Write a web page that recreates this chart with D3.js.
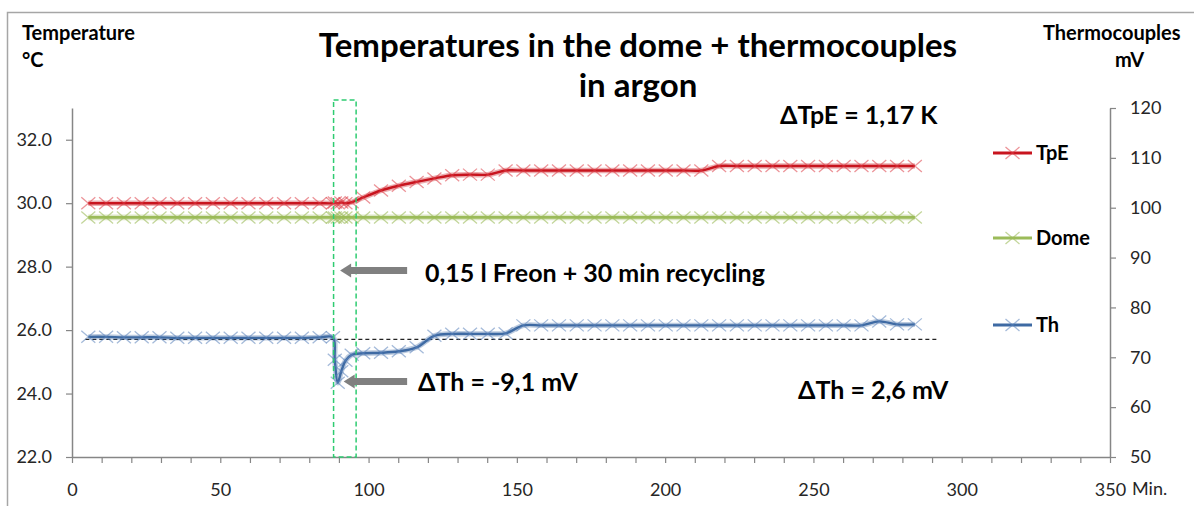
<!DOCTYPE html>
<html>
<head>
<meta charset="utf-8">
<script src="https://cdn.jsdelivr.net/npm/d3@7"></script>
<style>
  html, body { margin: 0; padding: 0; background: #fff; }
  svg { display: block; font-family: Lato, "Open Sans", sans-serif; }
</style>
</head>
<body>
<svg id="chart" width="1194" height="506"></svg>
<script>
// Sample times in minutes (dense sampling around the Freon injection)
const times = [
  5.5, 11.5, 17.5, 23.5, 29.5, 35.5, 41.5, 47.5, 53.5, 59.5, 65.5, 71.5, 77.5, 83.5,
  88.0, 88.6, 89.6, 90.8, 92.2, 94.3,
  98.2, 104.2, 110.2, 116.2, 122.2, 128.2, 134.2, 140.2, 146.2, 152.2,
  158.2, 164.2, 170.2, 176.2, 182.2, 188.2, 194.2, 200.2, 206.2, 212.2,
  218.2, 224.2, 230.2, 236.2, 242.2, 248.2, 254.2, 260.2, 266.2, 272.2,
  278.2, 284.2
];

// TpE temperature, °C (left axis)
const tpe = [
  30.0, 30.0, 30.0, 30.0, 30.0, 30.0, 30.0, 30.0, 30.0, 30.0, 30.0, 30.0, 30.0, 30.0,
  30.0, 30.02, 30.0, 30.02, 30.0, 30.03,
  30.18, 30.4, 30.55, 30.67, 30.78, 30.88, 30.9, 30.9, 31.03, 31.03,
  31.03, 31.03, 31.03, 31.03, 31.03, 31.03, 31.03, 31.03, 31.03, 31.03,
  31.17, 31.17, 31.17, 31.17, 31.17, 31.17, 31.17, 31.17, 31.17, 31.17,
  31.17, 31.17
];

// Dome temperature, °C (left axis)
const dome = [
  29.55, 29.55, 29.55, 29.55, 29.55, 29.55, 29.55, 29.55, 29.55, 29.55, 29.55, 29.55, 29.55, 29.55,
  29.55, 29.55, 29.55, 29.55, 29.55, 29.55,
  29.55, 29.55, 29.55, 29.55, 29.55, 29.55, 29.55, 29.55, 29.55, 29.55,
  29.55, 29.55, 29.55, 29.55, 29.55, 29.55, 29.55, 29.55, 29.55, 29.55,
  29.55, 29.55, 29.55, 29.55, 29.55, 29.55, 29.55, 29.55, 29.55, 29.55,
  29.55, 29.55
];

// Thermocouple signal Th, mV (right axis)
const th = [
  74.1, 74.1, 74.0, 74.0, 74.0, 73.9, 73.9, 73.9, 73.9, 73.9, 73.9, 73.9, 73.9, 74.0,
  74.0, 69.5, 64.9, 67.2, 69.3, 70.5,
  70.8, 70.9, 71.2, 72.0, 74.3, 74.7, 74.7, 74.7, 74.8, 76.4,
  76.4, 76.4, 76.4, 76.4, 76.4, 76.4, 76.4, 76.4, 76.4, 76.4,
  76.4, 76.4, 76.4, 76.4, 76.4, 76.4, 76.4, 76.4, 76.4, 77.2,
  76.6, 76.6
];

// Reference level of Th before the injection (dashed line), mV
const thReference = [
  { t: 4.5, v: 73.6 },
  { t: 291.5, v: 73.6 }
];

// Injection window, minutes
const eventWindow = [88.2, 95.8];

// Axis ticks
const xTicks = [0, 10, 20, 30, 40, 50, 60, 70, 80, 90, 100, 110, 120, 130, 140, 150, 160,
  170, 180, 190, 200, 210, 220, 230, 240, 250, 260, 270, 280, 290, 300, 310, 320, 330, 340, 350];
const xTickLabels = [0, 50, 100, 150, 200, 250, 300, 350];
const leftTicks = [22, 24, 26, 28, 30, 32];
const rightTicks = [50, 60, 70, 80, 90, 100, 110, 120];

const seriesNames = ["TpE", "Dome", "Th"];

const svg = d3.select("#chart");

const x = d3.scaleLinear().domain([0, 350]).range([72, 1110]);
const yL = d3.scaleLinear().domain([22, 33]).range([457, 108]);
const yR = d3.scaleLinear().domain([50, 120]).range([457, 108]);

// outer chart frame
svg.append("rect")
  .attr("x", 7.5).attr("y", 12.5)
  .attr("width", 1300).attr("height", 600)
  .attr("fill", "none").attr("stroke", "#a6a6a6").attr("stroke-width", 1.5);

const axisColor = "#868686";
const labelColor = "#262626";

function styleAxis(g) {
  g.selectAll(".domain").attr("stroke", axisColor).attr("stroke-width", 1.5);
  g.selectAll(".tick line").attr("stroke", axisColor).attr("stroke-width", 1.2);
  g.selectAll(".tick text").attr("fill", labelColor)
    .style("font-family", "Lato, sans-serif").style("font-size", "18px");
}

// left axis (°C)
svg.append("g")
  .attr("transform", "translate(72,0)")
  .call(d3.axisLeft(yL).tickValues(leftTicks).tickFormat(d3.format(".1f"))
    .tickSize(6).tickSizeOuter(0).tickPadding(14))
  .call(styleAxis);

// right axis (mV)
svg.append("g")
  .attr("transform", "translate(1110,0)")
  .call(d3.axisRight(yR).tickValues(rightTicks).tickFormat(d3.format("d"))
    .tickSize(6).tickSizeOuter(0).tickPadding(14))
  .call(styleAxis);

// bottom axis (minutes)
svg.append("g")
  .attr("transform", "translate(0,457)")
  .call(d3.axisBottom(x).tickValues(xTicks)
    .tickFormat(d => xTickLabels.includes(d) ? d : "")
    .tickSize(6).tickSizeOuter(0).tickPadding(20))
  .call(styleAxis);

svg.append("text")
  .attr("x", 1132).attr("y", 495)
  .attr("fill", labelColor).style("font-size", "18px")
  .text("Min.");

// reference dashed line for Th
svg.append("path")
  .datum(thReference)
  .attr("d", d3.line().x(d => x(d.t)).y(d => yR(d.v)))
  .attr("fill", "none").attr("stroke", "#222").attr("stroke-width", 1.3)
  .attr("stroke-dasharray", "4,3");

// series
const series = [
  { name: "TpE", values: tpe, scale: yL, color: "#c8141e", halo: "rgba(200,20,30,0.35)", marker: "rgba(220,60,70,0.55)", width: 2.4 },
  { name: "Dome", values: dome, scale: yL, color: "#9bbb59", halo: "rgba(155,187,89,0.35)", marker: "rgba(155,187,89,0.6)", width: 2.8 },
  { name: "Th", values: th, scale: yR, color: "#3e6aa3", halo: "rgba(62,106,163,0.35)", marker: "rgba(90,130,185,0.55)", width: 2.4 }
];

const crossPath = "M-7,-6L7,6M-7,6L7,-6";

series.forEach(s => {
  const pts = times.map((t, i) => ({ t, v: s.values[i] }));
  const line = d3.line().x(d => x(d.t)).y(d => s.scale(d.v)).curve(d3.curveCatmullRom.alpha(0.5));
  const g = svg.append("g").attr("class", "series-" + s.name);
  g.append("path").datum(pts).attr("d", line)
    .attr("fill", "none").attr("stroke", s.halo).attr("stroke-width", s.width + 3)
    .attr("stroke-linejoin", "round");
  g.append("path").datum(pts).attr("d", line)
    .attr("fill", "none").attr("stroke", s.color).attr("stroke-width", s.width)
    .attr("stroke-linejoin", "round");
  g.selectAll(".mk").data(pts).join("path")
    .attr("class", "mk")
    .attr("transform", d => `translate(${x(d.t)},${s.scale(d.v)})`)
    .attr("d", crossPath)
    .attr("fill", "none").attr("stroke", s.marker).attr("stroke-width", 1.3);
});

// injection window (green dashed box)
svg.append("rect")
  .attr("x", x(eventWindow[0])).attr("y", yL(33.25))
  .attr("width", x(eventWindow[1]) - x(eventWindow[0]))
  .attr("height", yL(22) - yL(33.25))
  .attr("fill", "none").attr("stroke", "#2ecc71").attr("stroke-width", 1.5)
  .attr("stroke-dasharray", "5,3");

// arrows
function arrow(t0, t1, v) {
  const y = yL(v), xs = x(t0), xe = x(t1);
  svg.append("line")
    .attr("x1", xs).attr("x2", xe + 8).attr("y1", y).attr("y2", y)
    .attr("stroke", "#808080").attr("stroke-width", 7);
  svg.append("path")
    .attr("d", `M${xe},${y}L${xe + 11},${y - 7}L${xe + 11},${y + 7}Z`)
    .attr("fill", "#808080");
}
arrow(113, 90.4, 27.88);
arrow(113, 91.6, 24.38);

// annotations
const noteStyle = (sel, size) => sel.attr("fill", "#000").style("font-weight", "700").style("font-size", size + "px");
svg.append("text").attr("x", 780).attr("y", 124).text("ΔTpE = 1,17 K").call(noteStyle, 25);
svg.append("text").attr("x", 425).attr("y", 282).text("0,15 l Freon + 30 min recycling").call(noteStyle, 25);
svg.append("text").attr("x", 418).attr("y", 391).text("ΔTh = -9,1 mV").call(noteStyle, 25);
svg.append("text").attr("x", 798).attr("y", 399).text("ΔTh = 2,6 mV").call(noteStyle, 25);

// title
svg.append("text").attr("x", 638).attr("y", 57).attr("text-anchor", "middle")
  .text("Temperatures in the dome + thermocouples").call(noteStyle, 33);
svg.append("text").attr("x", 638).attr("y", 97).attr("text-anchor", "middle")
  .text("in argon").call(noteStyle, 33);

// axis titles
const axTitle = sel => sel.attr("fill", "#000").style("font-weight", "700").style("font-size", "20px");
svg.append("text").attr("x", 22).attr("y", 40).text("Temperature").call(axTitle);
svg.append("text").attr("x", 22).attr("y", 67).text("°C").call(axTitle);
svg.append("text").attr("x", 1043).attr("y", 40).text("Thermocouples").call(axTitle);
svg.append("text").attr("x", 1115).attr("y", 67).text("mV").call(axTitle);

// legend
const legendY = [153, 238, 325];
series.forEach((s, i) => {
  const g = svg.append("g").attr("transform", `translate(993,${legendY[i]})`);
  g.append("line").attr("x1", 0).attr("x2", 39).attr("y1", 0).attr("y2", 0)
    .attr("stroke", s.color).attr("stroke-width", 3);
  g.append("path").attr("transform", "translate(19.5,0)").attr("d", crossPath)
    .attr("fill", "none").attr("stroke", s.marker).attr("stroke-width", 1.3);
  g.append("text").attr("x", 43).attr("y", 7).text(seriesNames[i]).call(axTitle);
});
</script>
</body>
</html>
